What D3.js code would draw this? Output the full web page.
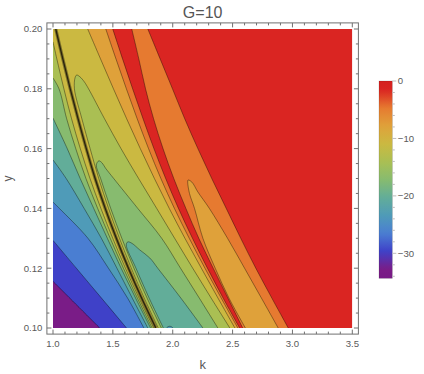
<!DOCTYPE html>
<html>
<head>
<meta charset="utf-8">
<script src="https://cdn.jsdelivr.net/npm/d3@7"></script>
<style>
  body { margin: 0; background: #fff; }
  text { font-family: "Liberation Sans", Arial, sans-serif; }
</style>
</head>
<body>
<svg id="chart" width="424" height="374"></svg>
<script>
var zMin = -34.35, zMax = 0;
var levels = [-31.23, -28.1, -24.98, -21.86, -18.74, -15.61, -12.49, -9.37, -6.25, -3.12];
var legendTicks = [0, -10, -20, -30];
var xTicks = [1.0, 1.5, 2.0, 2.5, 3.0, 3.5];
var yTicks = [0.10, 0.12, 0.14, 0.16, 0.18, 0.20];

// rows of y where the long contours were read, k positions per row
var yGrid = [0.20, 0.19, 0.18, 0.17, 0.16, 0.15, 0.14, 0.13, 0.12, 0.11, 0.10];
var singularK  = [1.023, 1.082, 1.144, 1.209, 1.278, 1.352, 1.436, 1.529, 1.630, 1.740, 1.859];
var level8K    = [1.290, 1.397, 1.505, 1.615, 1.729, 1.847, 1.971, 2.102, 2.239, 2.378, 2.519];
var level9K    = [1.441, 1.526, 1.613, 1.703, 1.798, 1.901, 2.014, 2.138, 2.269, 2.405, 2.544];
var level10K   = [1.499, 1.581, 1.665, 1.752, 1.843, 1.941, 2.048, 2.165, 2.290, 2.421, 2.559];
var ridgeK     = [1.658, 1.717, 1.773, 1.840, 1.919, 2.009, 2.110, 2.218, 2.338, 2.461, 2.585];
var bigRedK    = [1.792, 1.895, 1.998, 2.100, 2.210, 2.326, 2.447, 2.568, 2.694, 2.828, 2.965];

// left of the singular line: contours coming in from the left edge  [k, y]
var left7 = [[1.0,0.1957],[1.032,0.19],[1.091,0.18],[1.155,0.17],[1.228,0.16],[1.309,0.15],[1.400,0.14],[1.499,0.13],[1.605,0.12],[1.719,0.11],[1.841,0.10]];
var left6 = [[1.0,0.1836],[1.050,0.18],[1.114,0.17],[1.190,0.16],[1.275,0.15],[1.373,0.14],[1.478,0.13],[1.588,0.12],[1.705,0.11],[1.828,0.10]];
var left5 = [[1.0,0.1702],[1.119,0.16],[1.227,0.15],[1.340,0.14],[1.454,0.13],[1.569,0.12],[1.690,0.11],[1.815,0.10]];
var left4 = [[1.0,0.1562],[1.110,0.15],[1.260,0.14],[1.404,0.13],[1.534,0.12],[1.662,0.11],[1.792,0.10]];
var left3 = [[1.0,0.1421],[1.053,0.14],[1.292,0.13],[1.463,0.12],[1.623,0.11],[1.759,0.10]];
var left2 = [[1.0,0.1293],[1.195,0.12],[1.405,0.11],[1.614,0.10]];
var left1 = [[1.0,0.1156],[1.19,0.108],[1.39,0.10]];

// right of the singular line: U-shaped valleys, open at the bottom  [k, y]
var valley7 = [[1.879,0.10],[1.762,0.11],[1.654,0.12],[1.555,0.13],[1.464,0.14],[1.382,0.15],[1.310,0.16],[1.241,0.17],[1.179,0.18],[1.185,0.1838],[1.198,0.1846],[1.225,0.1840],[1.262,0.1823],[1.297,0.18],[1.430,0.17],[1.568,0.16],[1.715,0.15],[1.866,0.14],[2.016,0.13],[2.167,0.12],[2.321,0.11],[2.477,0.10]];
var valley6 = [[1.905,0.10],[1.786,0.11],[1.676,0.12],[1.575,0.13],[1.482,0.14],[1.398,0.15],[1.362,0.1545],[1.383,0.1559],[1.41,0.1552],[1.438,0.1535],[1.507,0.15],[1.708,0.14],[1.908,0.13],[2.065,0.12],[2.222,0.11],[2.377,0.10]];
var valley5 = [[1.922,0.10],[1.803,0.11],[1.693,0.12],[1.612,0.1278],[1.625,0.1288],[1.66,0.1283],[1.725,0.1261],[1.809,0.1234],[1.875,0.12],[2.068,0.11],[2.252,0.10]];
var valley4 = [[1.948,0.10],[1.960,0.1004],[1.975,0.10057],[1.990,0.1004],[2.002,0.10]];
var valley9 = [[2.607,0.10],[2.470,0.11],[2.355,0.12],[2.252,0.13],[2.182,0.14],[2.14,0.145],[2.125,0.1488],[2.128,0.1495],[2.16,0.1488],[2.21,0.1455],[2.306,0.14],[2.458,0.13],[2.600,0.12],[2.741,0.11],[2.881,0.10]];

var rampColors = ["#781a86", "#7a1c87", "#3f41c8", "#4a7ed2", "#4f9bb8", "#62ad99", "#87bb6f",
                  "#aabf53", "#cbb941", "#dfa13a", "#e67a30", "#da2522", "#d51f1f"];

var svg = d3.select("#chart");

var x = d3.scaleLinear().domain([1, 3.5]).range([53, 352.3]);
var y = d3.scaleLinear().domain([0.1, 0.2]).range([328, 29]);
var pad = 6.1;

function bandValue(i) {
  var lo = i === 0 ? zMin : levels[i - 1],
      hi = i === levels.length ? zMax : levels[i];
  return (lo + hi) / 2;
}
var color = d3.scaleLinear()
    .domain([zMin].concat(d3.range(levels.length + 1).map(bandValue), [zMax]))
    .range(rampColors);

function onGrid(ks) { return ks.map(function(k, i) { return [k, yGrid[i]]; }); }

var line = d3.line()
    .x(function(d) { return x(d[0]); })
    .y(function(d) { return y(d[1]); })
    .curve(d3.curveCatmullRom);

function pt(k, v) { return "L" + x(k) + "," + y(v); }
function leftOf(pts) { return line(pts) + pt(1, 0.1) + pt(1, 0.2) + "Z"; }
function corner(pts) { return line(pts) + pt(1, 0.1) + "Z"; }
function closed(pts) { return line(pts) + "Z"; }

var sLine = onGrid(singularK), l8 = onGrid(level8K), l9 = onGrid(level9K),
    l10 = onGrid(level10K), ridge = onGrid(ridgeK), bigRed = onGrid(bigRedK);

svg.append("clipPath").attr("id", "plotclip")
  .append("rect")
    .attr("x", x(1)).attr("y", y(0.2))
    .attr("width", x(3.5) - x(1)).attr("height", y(0.1) - y(0.2));

var plot = svg.append("g").attr("clip-path", "url(#plotclip)");

var fills = [
  { d: "M" + x(1) + "," + y(0.2) + pt(3.5, 0.2) + pt(3.5, 0.1) + pt(1, 0.1) + "Z", band: 10 },
  { d: line(ridge) + "L" + line(bigRed.slice().reverse()).slice(1) + "Z", band: 9 },
  { d: closed(valley9), band: 8 },
  { d: leftOf(l10), band: 9 },
  { d: leftOf(l9), band: 8 },
  { d: leftOf(l8), band: 7 },
  { d: closed(valley7), band: 6 },
  { d: closed(valley6), band: 5 },
  { d: closed(valley5), band: 4 },
  { d: closed(valley4), band: 3 },
  { d: corner(left7), band: 6 },
  { d: corner(left6), band: 5 },
  { d: corner(left5), band: 4 },
  { d: corner(left4), band: 3 },
  { d: corner(left3), band: 2 },
  { d: corner(left2), band: 1 },
  { d: corner(left1), band: 0 }
];

plot.selectAll("path.band")
  .data(fills)
  .enter().append("path")
    .attr("class", "band")
    .attr("d", function(d) { return d.d; })
    .attr("fill", function(d) { return color(bandValue(d.band)); });

var contourLines = [l8, l9, l10, ridge, bigRed, valley9, valley7, valley6, valley5, valley4,
                    left7, left6, left5, left4, left3, left2, left1];

plot.selectAll("path.contour")
  .data(contourLines)
  .enter().append("path")
    .attr("class", "contour")
    .attr("d", line)
    .attr("fill", "none")
    .attr("stroke", "rgba(0,0,0,0.42)")
    .attr("stroke-width", 0.9);

// the singular line, where the contours crowd together
plot.append("path").attr("d", line(sLine))
    .attr("fill", "none").attr("stroke", "#2e2812").attr("stroke-opacity", 0.5).attr("stroke-width", 3.2);
plot.append("path").attr("d", line(sLine))
    .attr("fill", "none").attr("stroke", "#1f1a0a").attr("stroke-opacity", 0.9).attr("stroke-width", 1.3);

// frame with ticks on all sides
var fx0 = x(1) - pad, fx1 = x(3.5) + pad, fy0 = y(0.2) - pad, fy1 = y(0.1) + pad;
var frameColor = "#707070";
svg.append("rect")
    .attr("x", fx0).attr("y", fy0).attr("width", fx1 - fx0).attr("height", fy1 - fy0)
    .attr("fill", "none").attr("stroke", frameColor).attr("stroke-width", 1);

var xMinor = d3.range(10, 35.5, 1).map(function(v) { return v / 10; });
var yMinor = d3.range(20, 40.5, 1).map(function(v) { return v / 200; });
var ticks = svg.append("g").attr("stroke", frameColor).attr("stroke-width", 1);
function isMajor(list, v) { return list.some(function(t) { return Math.abs(t - v) < 1e-6; }); }

xMinor.forEach(function(v) {
  var len = isMajor(xTicks, v) ? 4.5 : 2.5, px = x(v);
  ticks.append("line").attr("x1", px).attr("x2", px).attr("y1", fy1).attr("y2", fy1 - len);
  ticks.append("line").attr("x1", px).attr("x2", px).attr("y1", fy0).attr("y2", fy0 + len);
});
yMinor.forEach(function(v) {
  var len = isMajor(yTicks, v) ? 4.5 : 2.5, py = y(v);
  ticks.append("line").attr("y1", py).attr("y2", py).attr("x1", fx0).attr("x2", fx0 + len);
  ticks.append("line").attr("y1", py).attr("y2", py).attr("x1", fx1).attr("x2", fx1 - len);
});

var labelColor = "#5a5a5a";
svg.append("g").selectAll("text")
  .data(xTicks)
  .enter().append("text")
    .attr("x", function(d) { return x(d); })
    .attr("y", fy1 + 13.3)
    .attr("text-anchor", "middle")
    .attr("font-size", 9.6)
    .attr("fill", labelColor)
    .text(d3.format(".1f"));

svg.append("g").selectAll("text")
  .data(yTicks)
  .enter().append("text")
    .attr("x", fx0 - 4.5)
    .attr("y", function(d) { return y(d) + 3.4; })
    .attr("text-anchor", "end")
    .attr("font-size", 9.6)
    .attr("fill", labelColor)
    .text(d3.format(".2f"));

svg.append("text")
    .attr("x", (fx0 + fx1) / 2).attr("y", 17.5)
    .attr("text-anchor", "middle").attr("font-size", 16)
    .attr("fill", "#555").text("G=10");

svg.append("text")
    .attr("x", (fx0 + fx1) / 2).attr("y", 368.5)
    .attr("text-anchor", "middle").attr("font-size", 13)
    .attr("fill", labelColor).text("k");

svg.append("text")
    .attr("transform", "translate(12," + ((fy0 + fy1) / 2) + ") rotate(-90)")
    .attr("text-anchor", "middle").attr("font-size", 12)
    .attr("fill", labelColor).text("y");

// colour legend
var lx0 = 379, lx1 = 392.3;
var ly = d3.scaleLinear().domain([zMin, zMax]).range([278.3, 81]);

var grad = svg.append("defs").append("linearGradient")
    .attr("id", "ramp").attr("x1", 0).attr("x2", 0).attr("y1", 1).attr("y2", 0);
d3.range(0, 1.0001, 0.02).forEach(function(t) {
  grad.append("stop").attr("offset", t).attr("stop-color", color(zMin + t * (zMax - zMin)));
});

svg.append("rect")
    .attr("x", lx0).attr("y", ly(zMax)).attr("width", lx1 - lx0).attr("height", ly(zMin) - ly(zMax))
    .attr("fill", "url(#ramp)").attr("stroke", "rgba(0,0,0,0.22)").attr("stroke-width", 0.6);

var lticks = svg.append("g").attr("stroke", "#bdbdbd").attr("stroke-width", 1);
d3.range(-34, 0.5, 2).forEach(function(v) {
  var len = isMajor(legendTicks, v) ? 4 : 2.5;
  lticks.append("line").attr("x1", lx1).attr("x2", lx1 + len).attr("y1", ly(v)).attr("y2", ly(v));
});

svg.append("g").selectAll("text")
  .data(legendTicks)
  .enter().append("text")
    .attr("x", lx1 + 5.5)
    .attr("y", function(d) { return ly(d) + 3.4; })
    .attr("font-size", 9.6)
    .attr("fill", labelColor)
    .text(function(d) { return d < 0 ? "\u2212" + (-d) : d; });
</script>
</body>
</html>
